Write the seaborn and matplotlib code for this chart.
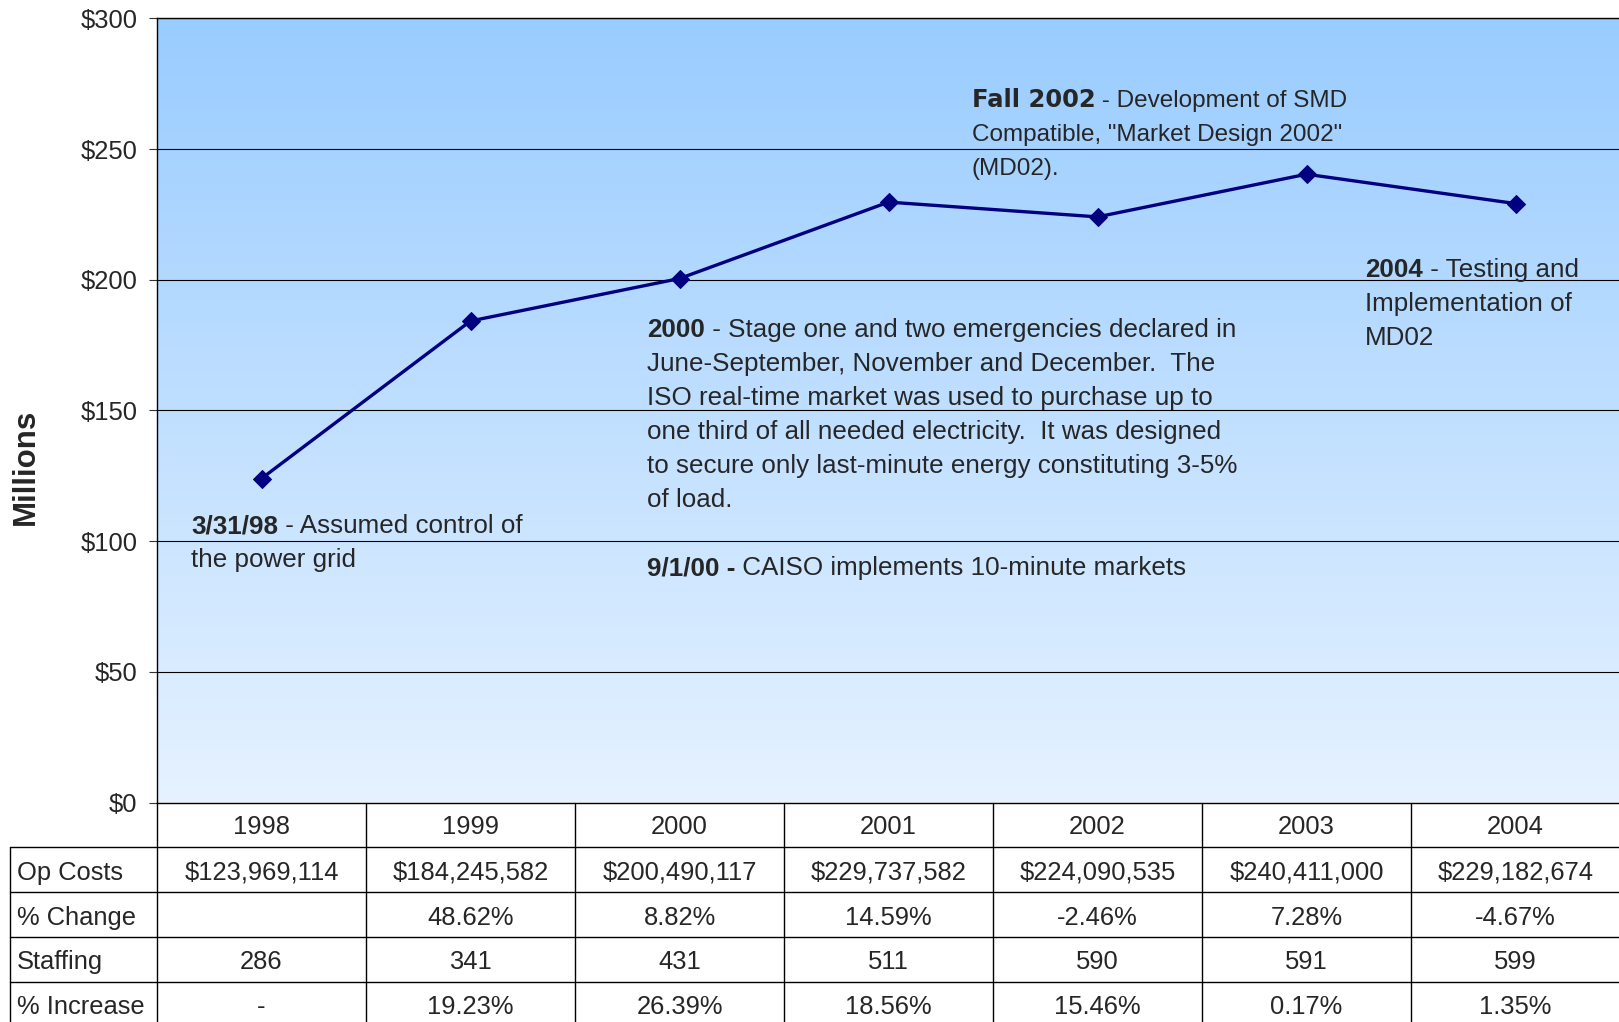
import numpy as np
import matplotlib
matplotlib.use("Agg")
import matplotlib.pyplot as plt
from matplotlib.colors import LinearSegmentedColormap
from matplotlib.ticker import StrMethodFormatter
import seaborn as sns

sns.set_style("white")
plt.rcParams['font.family'] = ['Liberation Sans', 'DejaVu Sans']

# Data
years = ['1998', '1999', '2000', '2001', '2002', '2003', '2004']
op_costs = [123969114, 184245582, 200490117, 229737582,
            224090535, 240411000, 229182674]
pct_change = ['', '48.62%', '8.82%', '14.59%', '-2.46%', '7.28%', '-4.67%']
staffing = [286, 341, 431, 511, 590, 591, 599]
pct_increase = ['-', '19.23%', '26.39%', '18.56%', '15.46%', '0.17%', '1.35%']
row_labels = ['Op Costs', '% Change', 'Staffing', '% Increase']

millions = np.array(op_costs) / 1e6
xpos = np.arange(len(years))

W, H = 1619, 1022
fig = plt.figure(figsize=(W / 100, H / 100), dpi=100)

# main chart area (pixel layout)
ax = fig.add_axes([157 / W, 1 - 802.5 / H, 1463 / W, 784 / H])

grad = np.linspace(1, 0, 256).reshape(-1, 1)
cmap = LinearSegmentedColormap.from_list('bg', ['#E6F2FF', '#99CCFF'])
ax.imshow(grad, extent=(-0.5, 6.5, 0, 300), aspect='auto', cmap=cmap,
          zorder=0)

sns.lineplot(x=xpos, y=millions, ax=ax, color='#000080', linewidth=2.4,
             marker='D', markersize=9.5, markeredgecolor='#000080', zorder=3)

ax.set_xlim(-0.5, 6.5)
ax.set_ylim(0, 300)
ax.set_yticks(np.arange(0, 301, 50))
ax.yaxis.set_major_formatter(StrMethodFormatter('${x:,.0f}'))
ax.set_xticks([])
ax.tick_params(axis='y', length=6, width=0.8, pad=8, labelsize=18.4,
               color='#333333', left=True)
ax.grid(axis='y', color='black', linewidth=0.8)
ax.set_axisbelow(True)
for side in ['left', 'top', 'bottom']:
    ax.spines[side].set_color('black')
    ax.spines[side].set_linewidth(1.0)
ax.spines['right'].set_visible(False)
ax.set_xlabel('')
ax.set_ylabel('')
fig.text(26 / W, 1 - 467 / H, 'Millions', rotation=90, fontsize=22.5,
         fontweight='bold', ha='center', va='center')

FS = 18.7
PITCH = 24.5


def note(x, y, bold, first, lines=(), bold_family=None, fs=FS):
    kw = {}
    if bold_family:
        kw['family'] = bold_family
    t = ax.text(x, y, bold, fontsize=fs, fontweight='bold', ha='left',
                va='baseline', zorder=4, **kw)
    ax.annotate(first, xy=(1, 0), xycoords=t, fontsize=fs, ha='left',
                va='bottom', zorder=4)
    for i, line in enumerate(lines, 1):
        ax.annotate(line, xy=(x, y), xycoords='data',
                    xytext=(0, -i * PITCH), textcoords='offset points',
                    fontsize=fs, ha='left', va='baseline', zorder=4)


note(-0.337, 103.0, '3/31/98', ' - Assumed control of', ['the power grid'])
note(1.844, 178.1, '2000', ' - Stage one and two emergencies declared in',
     ['June-September, November and December.  The',
      'ISO real-time market was used to purchase up to',
      'one third of all needed electricity.  It was designed',
      'to secure only last-minute energy constituting 3-5%',
      'of load.'])
note(1.844, 86.9, '9/1/00 -', ' CAISO implements 10-minute markets')
note(3.398, 266.2, 'Fall 2002', ' - Development of SMD',
     ['Compatible, "Market Design 2002"', '(MD02).'],
     bold_family='DejaVu Sans', fs=17.5)
note(5.28, 201.0, '2004', ' - Testing and', ['Implementation of', 'MD02'])

# data table under the chart
tx = fig.add_axes([10.3 / W, 1 - 1026.5 / H, 1609.7 / W, 224 / H])
left = -0.5 - 146.7 / 209
tx.set_xlim(left, 6.5)
tx.set_ylim(5, 0)
tx.axis('off')

for r in range(1, 6):
    tx.plot([left, 6.5], [r, r], color='black', linewidth=1.0, clip_on=False)
tx.plot([left, left], [1, 5], color='black', linewidth=1.0, clip_on=False)
for k in range(len(years) + 1):
    tx.plot([k - 0.5, k - 0.5], [0, 5], color='black', linewidth=1.0,
            clip_on=False)

rows = [[f'${v:,}' for v in op_costs], pct_change,
        [str(v) for v in staffing], pct_increase]
TFS = 18.4
for i, yr in enumerate(years):
    tx.text(i, 0.55, yr, fontsize=TFS, ha='center', va='center')
for r, (lab, vals) in enumerate(zip(row_labels, rows), 1):
    tx.text(left + 0.03, r + 0.57, lab, fontsize=TFS, ha='left', va='center')
    for i, v in enumerate(vals):
        tx.text(i, r + 0.57, v, fontsize=TFS, ha='center', va='center')

fig.savefig('out.png', dpi=100)
